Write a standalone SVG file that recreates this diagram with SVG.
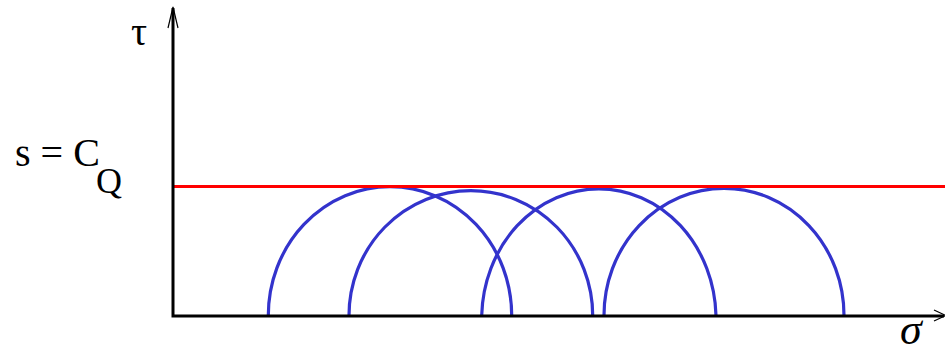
<svg xmlns="http://www.w3.org/2000/svg" width="945" height="349" viewBox="0 0 945 349">
<style>
.axis{stroke:#000;stroke-width:3;fill:none}
.head{stroke:#000;stroke-width:1.2;fill:none}
.arc{stroke:#3333cc;stroke-width:3.2;fill:none}
.lim{stroke:#ff0000;stroke-width:3.2;fill:none}
.t{font-family:"Liberation Serif","Times New Roman",serif;fill:#000}
</style>
<rect width="945" height="349" fill="#fff"/>
<g id="connectors">
<path class="arc" d="M268.3,315.5 A121.7,128.8 0 0 1 511.7,315.5"/>
<path class="arc" d="M349,315.5 A121.8,124.8 0 0 1 592.7,315.5"/>
<path class="arc" d="M481.7,315.5 A117.2,130.5 0 0 1 716,315.5"/>
<path class="arc" d="M604,315.5 A120,127.2 0 0 1 844,315.5"/>
<line class="lim" x1="173" y1="186.5" x2="945" y2="186.5"/>
</g>
<g id="axes">
<polyline class="axis" points="173,8 173,316 944,316"/>
<polyline class="head" points="168,28 173,7 178,28"/>
<polyline class="head" points="934,310 946,315.5 934,321"/>
</g>
<g id="labels">
<text class="t" x="131" y="45" font-size="40">τ</text>
<text class="t" x="15" y="166" font-size="40">s = C</text>
<text class="t" x="96" y="193" font-size="36">Q</text>
<text class="t" x="900" y="344" font-size="44" font-style="italic">σ</text>
</g>
</svg>
